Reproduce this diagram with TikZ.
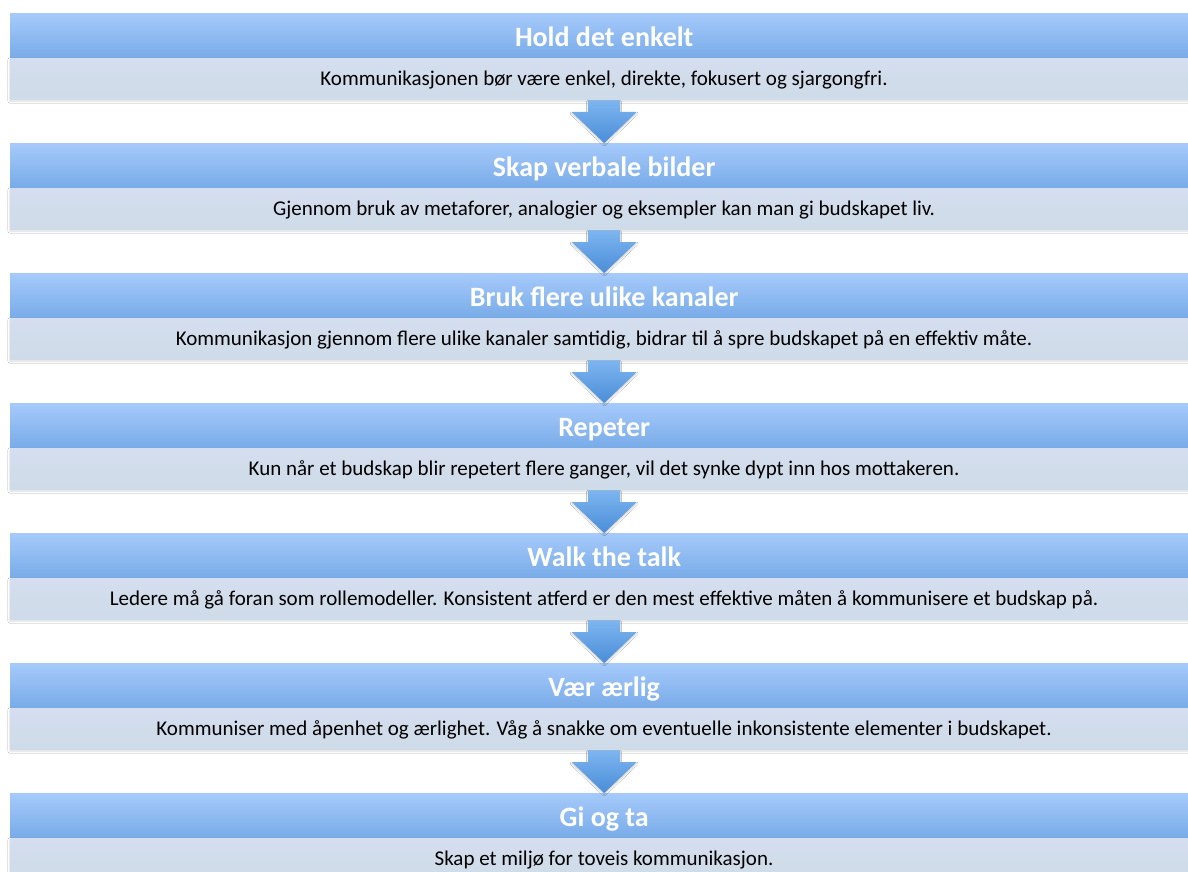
\documentclass[tikz,border=0pt]{standalone}
\usepackage{fontspec}
\setmainfont{Carlito}
\usetikzlibrary{calc,shadows.blur}

\definecolor{headtop}{HTML}{A6CAFB}
\definecolor{headbot}{HTML}{78ABE8}
\definecolor{bodytop}{HTML}{D5DEEF}
\definecolor{bodybot}{HTML}{CEDBE8}
\definecolor{arrtop}{HTML}{7DB5F0}
\definecolor{arrbot}{HTML}{4A8DD8}

\tikzset{
  head/.style={rectangle, anchor=north west, minimum width=1188pt, minimum height=44.5pt,
    inner sep=0pt, text height=29pt, text depth=6pt,
    top color=headtop, bottom color=headbot, text=white,
    font=\fontsize{28}{32}\selectfont\bfseries},
  body/.style={rectangle, anchor=north, minimum width=1188pt, minimum height=41.5pt,
    inner sep=0pt, text height=19pt, text depth=5pt,
    top color=bodytop, bottom color=bodybot, text=black,
    font=\fontsize{21}{25}\selectfont,
    blur shadow={shadow xshift=0pt, shadow yshift=-2pt, shadow blur radius=2pt, shadow opacity=14}},
  downarrow/.style={top color=arrtop, bottom color=arrbot, draw=none,
    blur shadow={shadow xshift=0pt, shadow yshift=-1.5pt, shadow blur radius=1.5pt, shadow opacity=20}}
}

% block arrow from the bottom of one step to the top of the next
\newcommand{\steparrow}[2]{%
  \path[downarrow]
    ($(#1.south)+(-16,1)$) -- ($(#1.south)+(16,1)$) --
    ($(#2.north)+(16,-31)$) -- ($(#2.north)+(32.5,-31)$) --
    (#2.north) --
    ($(#2.north)+(-32.5,-31)$) -- ($(#2.north)+(-16,-31)$) -- cycle;}

\begin{document}
\begin{tikzpicture}[x=1pt,y=-1pt]
\useasboundingbox (0,0) rectangle (1188,872);
\clip (0,0) rectangle (1188,872);
\fill[white] (0,0) rectangle (1188,872);

\node[body] (b1) at (604,57.5) {Kommunikasjonen bør være enkel, direkte, fokusert og sjargongfri.};
\node[head] (h1) at (10,13) {Hold det enkelt};

\node[body] (b2) at (604,187.5) {Gjennom bruk av metaforer, analogier og eksempler kan man gi budskapet liv.};
\node[head] (h2) at (10,143) {Skap verbale bilder};

\node[body] (b3) at (604,317.5) {Kommunikasjon gjennom flere ulike kanaler samtidig, bidrar til å spre budskapet på en effektiv måte.};
\node[head] (h3) at (10,273) {Bruk flere ulike kanaler};

\node[body] (b4) at (604,447.5) {Kun når et budskap blir repetert flere ganger, vil det synke dypt inn hos mottakeren.};
\node[head] (h4) at (10,403) {Repeter};

\node[body] (b5) at (604,577.5) {Ledere må gå foran som rollemodeller. Konsistent atferd er den mest effektive måten å kommunisere et budskap på.};
\node[head] (h5) at (10,533) {Walk the talk};

\node[body] (b6) at (604,707.5) {Kommuniser med åpenhet og ærlighet. Våg å snakke om eventuelle inkonsistente elementer i budskapet.};
\node[head] (h6) at (10,663) {Vær ærlig};

\node[body] (b7) at (604,837.5) {Skap et miljø for toveis kommunikasjon.};
\node[head] (h7) at (10,793) {Gi og ta};

\steparrow{b1}{h2}
\steparrow{b2}{h3}
\steparrow{b3}{h4}
\steparrow{b4}{h5}
\steparrow{b5}{h6}
\steparrow{b6}{h7}
\end{tikzpicture}
\end{document}
